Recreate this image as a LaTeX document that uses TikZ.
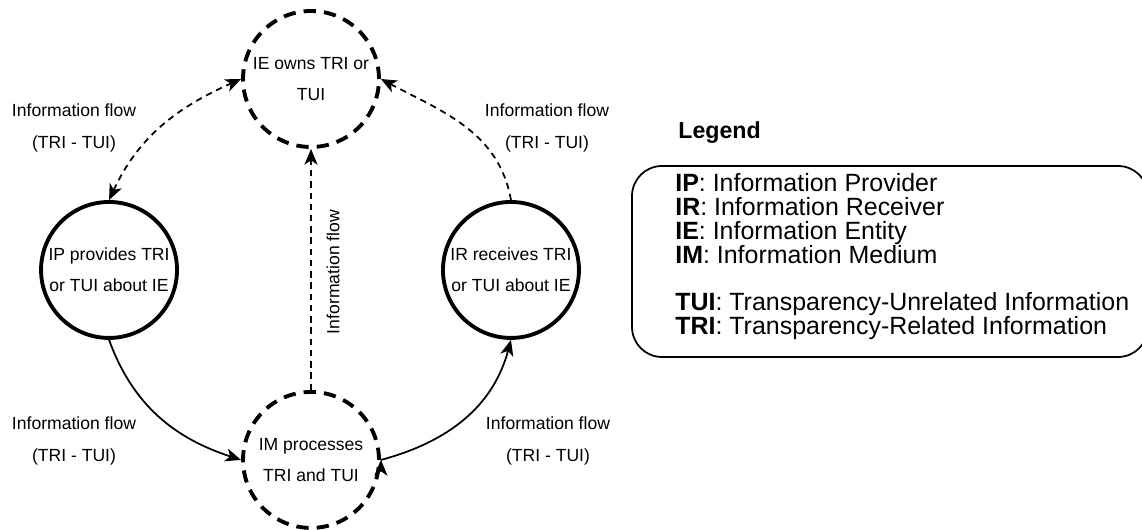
\documentclass[tikz,border=0pt]{standalone}
\usepackage{fontspec}
\setmainfont{Liberation Sans}
\usetikzlibrary{positioning, arrows.meta}

\begin{document}
\begin{tikzpicture}[x=0.02cm, y=0.02cm, on grid,
	>={Stealth[length=9pt, width=7.5pt, inset=2.5pt]},
	state/.style={circle, draw, line width=2.2pt, minimum size=2.72cm, inner sep=0pt, align=center, font=\fontsize{10}{17.6}\selectfont},
	fuzzy/.style={state, dash pattern=on 7pt off 4.6pt},
	flow/.style={line width=1pt},
	dflow/.style={flow, dash pattern=on 3.6pt off 2.8pt},
	lbl/.style={align=center, inner sep=0pt, font=\fontsize{10}{18.7}\selectfont},
	legend/.style={inner sep=0pt, align=left, font=\fontsize{14.2}{13.6}\selectfont}]
	\useasboundingbox (0,0) rectangle (1142,530);

	\node[fuzzy] (ie) at (311,451) {IE owns TRI or\\TUI};
	\node[state, below left=3.82cm and 4.04cm of ie] (ip) {IP provides TRI\\or TUI about IE};
	\node[state, below right=3.82cm and 4.0cm of ie] (ir) {IR receives TRI\\or TUI about IE};
	\node[fuzzy, below=7.62cm of ie] (im) {IM processes\\TRI and TUI};

	\node[lbl] (f1) at (74,402) {Information flow\\(TRI - TUI)};
	\node[lbl] (f2) at (547,402) {Information flow\\(TRI - TUI)};
	\node[lbl] (f3) at (74,89) {Information flow\\(TRI - TUI)};
	\node[lbl] (f4) at (548,89) {Information flow\\(TRI - TUI)};
	\node[lbl, rotate=90] (f5) at (333,258) {Information flow};

	\draw [->]
		(ip.north) edge[dflow, <->, out=65, in=204] (ie.west)
		(ir.north) edge[dflow, out=100, in=-28] (ie.east)
		(im.north) edge[dflow] (ie.south)
		(ip.south) edge[flow, out=-70, in=162] (im.west)
		(im.east) edge[flow, out=15, in=-105] (ir.south)
		;

	\node[legend, font=\fontsize{13.2}{13.6}\selectfont\bfseries, anchor=west] (title) at (678,397) {Legend};
	\draw[line width=1pt, rounded corners=0.6cm] (632,364) rectangle (1148,173);
	\node[legend, anchor=north west] (keys) at (675,357) {\textbf{IP}: Information Provider\\
		\textbf{IR}: Information Receiver\\
		\textbf{IE}: Information Entity\\
		\textbf{IM}: Information Medium\\[13.6pt]
		\textbf{TUI}: Transparency-Unrelated Information\\
		\textbf{TRI}: Transparency-Related Information};
\end{tikzpicture}
\end{document}
